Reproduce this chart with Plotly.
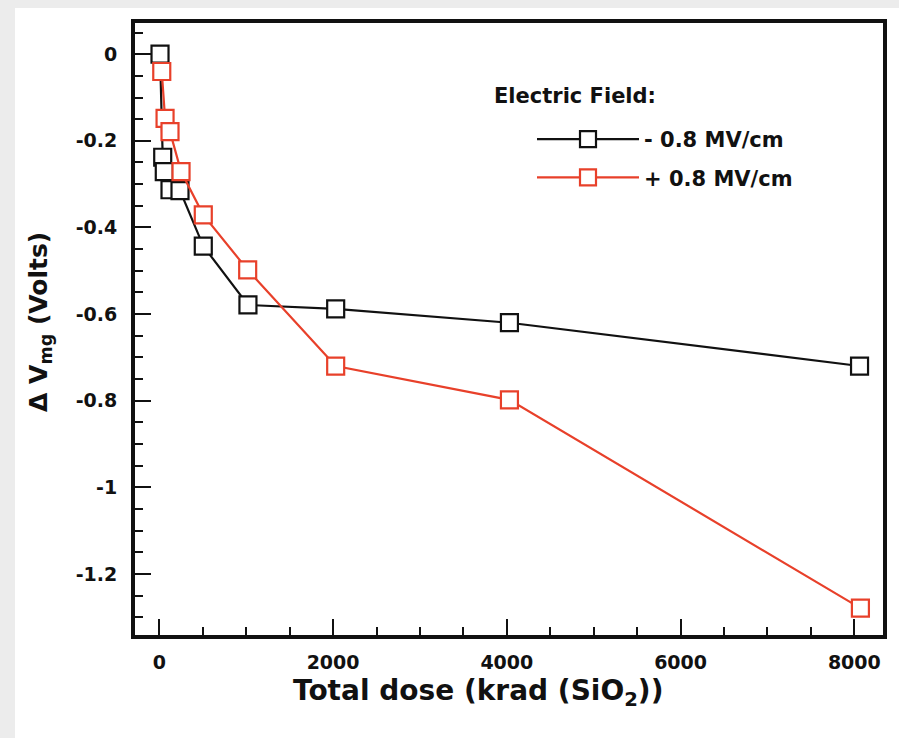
import plotly.graph_objects as go

# Data
neg_dose = [8, 39, 57, 123, 238, 506, 1020, 2030, 4030, 8060]
neg_dv = [0.0, -0.238, -0.271, -0.313, -0.315, -0.443, -0.579, -0.588, -0.620, -0.720]
pos_dose = [28, 66, 123, 250, 506, 1017, 2030, 4030, 8070]
pos_dv = [-0.040, -0.148, -0.179, -0.271, -0.371, -0.498, -0.720, -0.798, -1.279]
series_names = ["- 0.8 MV/cm", "+ 0.8 MV/cm"]
y_tickvals = [0, -0.2, -0.4, -0.6, -0.8, -1.0, -1.2]
y_ticktext = ["0", "-0.2", "-0.4", "-0.6", "-0.8", "-1", "-1.2"]
x_tickvals = [0, 2000, 4000, 6000, 8000]
x_ticktext = ["0", "2000", "4000", "6000", "8000"]

FONT = "DejaVu Sans"
BLACK = "#111111"
RED = "#e8402a"
GRAY = "#ececec"

fig = go.Figure()
fig.add_trace(go.Scatter(
    x=neg_dose, y=neg_dv, name=series_names[0], mode="lines+markers",
    legendgroup="a",
    line=dict(color=BLACK, width=2.2),
    marker=dict(symbol="square", size=17, color="white",
                line=dict(color=BLACK, width=2.2)),
))
fig.add_trace(go.Scatter(
    x=pos_dose, y=pos_dv, name=series_names[1], mode="lines+markers",
    legendgroup="b",
    line=dict(color=RED, width=2.2),
    marker=dict(symbol="square", size=17, color="white",
                line=dict(color=RED, width=2.2)),
))

L, R, T, B = 135, 16, 23, 103
W, H = 899, 738
pw, ph = W - L - R, H - T - B

def px_x(p):
    return (p - L) / pw

def px_y(p):
    return (H - B - p) / ph

fig.add_shape(type="rect", xref="paper", yref="paper",
              x0=px_x(15), x1=px_x(W + 5), y0=px_y(H + 5), y1=px_y(8),
              fillcolor="white", line=dict(width=0), layer="below")

fig.add_annotation(text="<b>Electric Field:</b>", xref="paper", yref="paper",
                   x=px_x(492), y=px_y(96), xanchor="left", yanchor="middle",
                   showarrow=False, font=dict(family=FONT, size=21, color=BLACK))
fig.add_annotation(text="<b>Total dose (krad (SiO<sub>2</sub>))</b>", xref="paper", yref="paper",
                   x=px_x(478), y=px_y(692), xanchor="center", yanchor="middle",
                   showarrow=False, font=dict(family=FONT, size=28, color=BLACK))
fig.add_annotation(text="<b>Δ V<sub>mg</sub> (Volts)</b>", xref="paper", yref="paper",
                   x=px_x(40), y=px_y(322), xanchor="center", yanchor="middle",
                   textangle=-90,
                   showarrow=False, font=dict(family=FONT, size=25, color=BLACK))

axis_common = dict(
    showline=True, linewidth=4, linecolor=BLACK, mirror=True,
    ticks="inside", tickcolor=BLACK, tickwidth=2, ticklen=16,
    showgrid=False, zeroline=False,
    tickfont=dict(family=FONT, size=19, color=BLACK, weight="bold"),
)

fig.update_xaxes(range=[-280, 8330], tickvals=x_tickvals, ticktext=x_ticktext,
                 ticklabelstandoff=7,
                 minor=dict(ticks="inside", ticklen=8, tickwidth=2, tickcolor=BLACK,
                            tick0=0, dtick=500, showgrid=False),
                 **axis_common)
fig.update_yaxes(range=[-1.341, 0.072], tickvals=y_tickvals, ticktext=y_ticktext,
                 ticklabelstandoff=10,
                 minor=dict(ticks="inside", ticklen=8, tickwidth=2, tickcolor=BLACK,
                            tick0=0, dtick=0.05, showgrid=False),
                 **axis_common)

fig.update_layout(
    width=W, height=H,
    margin=dict(l=L, r=R, t=T, b=B, pad=0),
    paper_bgcolor=GRAY, plot_bgcolor="white",
    showlegend=True,
    legend=dict(x=px_x(532), y=px_y(119), xanchor="left", yanchor="top",
                bgcolor="rgba(0,0,0,0)", borderwidth=0,
                font=dict(family=FONT, size=21, color=BLACK, weight="bold"),
                itemwidth=102, tracegroupgap=8),
)

fig.write_html(
    "out.html",
    config={"displayModeBar": False},
    post_script="document.body.style.margin='0px';document.body.style.background='%s';" % GRAY,
)
